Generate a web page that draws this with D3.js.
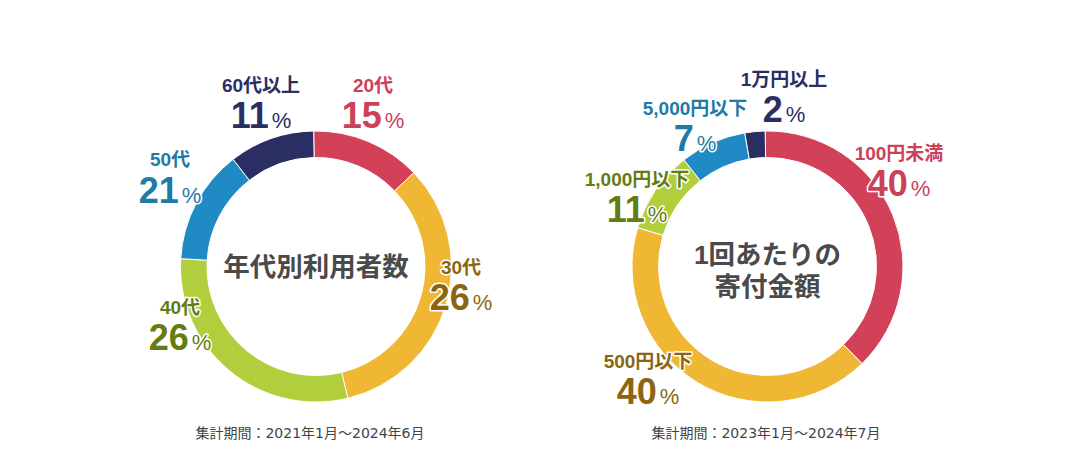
<!DOCTYPE html>
<html lang="ja">
<head>
<meta charset="utf-8">
<script src="https://cdn.jsdelivr.net/npm/d3@7"></script>
<style>
  body { margin: 0; background: #fff; }
  text { font-family: "Liberation Sans", "Noto Sans CJK JP", sans-serif; }
  .period { font-family: "DejaVu Sans", "Noto Sans CJK JP", sans-serif; }
</style>
</head>
<body>
<svg id="chart" width="1083" height="460"></svg>
<script>
// Data________________________________________________________________
const ageLabels = ['20代', '30代', '40代', '50代', '60代以上'];
const agePercents = [15, 26, 26, 21, 11];
// the drawn arcs do not follow the printed percents, so these are read off the ring
const ageArcShares = [13.1, 33.4, 29.7, 13.6, 10.2];
const agePeriod = '集計期間：2021年1月～2024年6月';
const ageTitle = ['年代別利用者数'];

const amountLabels = ['100円未満', '500円以下', '1,000円以下', '5,000円以下', '1万円以上'];
const amountPercents = [40, 40, 11, 7, 2];
const amountArcShares = [38.0, 41.9, 9.8, 7.9, 2.4];
const amountPeriod = '集計期間：2023年1月～2024年7月';
const amountTitle = ['1回あたりの', '寄付金額'];

// Styles______________________________________________________________
const ringColors = ['#d24158', '#efb733', '#b1cf3c', '#1f8ac4', '#2a2e62'];
const textColors = ['#cc4058', '#8c6510', '#647c12', '#1f7aa6', '#2a2e62'];
const outerRadius = 135.5;
const innerRadius = 109;
const centerY = 266.5;
const startAngle = -Math.PI / 180; // ring starts about a degree left of 12 o'clock

// label anchors, [x, label baseline, value baseline]
const ageAnchors = [[373, 92, 128], [461, 274, 310], [180, 314, 350], [170, 166, 203], [261, 92, 128]];
const amountAnchors = [[899, 160, 196], [648, 368, 404], [637, 186, 222], [695, 115, 151], [784, 86, 122]];

const svg = d3.select('#chart');

// Drawing a ring______________________________________________________
function drawDonut(cfg) {
    const g = svg.append('g');
    const pie = d3.pie()
        .sort(null)
        .startAngle(startAngle)
        .endAngle(startAngle + 2 * Math.PI)
        .value(d => d);
    const arc = d3.arc().innerRadius(innerRadius).outerRadius(outerRadius);

    g.append('g')
        .attr('transform', `translate(${cfg.cx}, ${centerY})`)
        .selectAll('path')
        .data(pie(cfg.shares))
        .enter()
        .append('path')
        .attr('d', arc)
        .attr('fill', (d, i) => ringColors[i])
        .attr('stroke', '#fff')
        .attr('stroke-width', 1);

    // Labels with a white halo
    const halo = sel => sel
        .attr('stroke', '#fff')
        .attr('stroke-width', 3)
        .attr('stroke-linejoin', 'round')
        .style('paint-order', 'stroke');

    g.selectAll('.slice-label')
        .data(cfg.labels)
        .enter()
        .append('text')
        .attr('class', 'slice-label')
        .attr('x', (d, i) => cfg.anchors[i][0])
        .attr('y', (d, i) => cfg.anchors[i][1])
        .attr('text-anchor', 'middle')
        .attr('font-size', 19)
        .attr('font-weight', 700)
        .attr('fill', (d, i) => textColors[i])
        .call(halo)
        .text(d => d);

    const values = g.selectAll('.slice-value')
        .data(cfg.percents)
        .enter()
        .append('text')
        .attr('class', 'slice-value')
        .attr('x', (d, i) => cfg.anchors[i][0])
        .attr('y', (d, i) => cfg.anchors[i][2])
        .attr('text-anchor', 'middle')
        .attr('fill', (d, i) => textColors[i])
        .call(halo);
    values.append('tspan').attr('font-size', 36).attr('font-weight', 700).text(d => d);
    values.append('tspan').attr('font-size', 22).attr('dx', 3).text('%');

    // Title in the hole
    const lineGap = 32;
    g.selectAll('.center-title')
        .data(cfg.title)
        .enter()
        .append('text')
        .attr('class', 'center-title')
        .attr('x', cfg.cx)
        .attr('y', (d, i) => cfg.titleY + i * lineGap)
        .attr('text-anchor', 'middle')
        .attr('font-size', 26.5)
        .attr('font-weight', 700)
        .attr('fill', '#4a4a4a')
        .text(d => d);

    g.append('text')
        .attr('class', 'period')
        .attr('x', cfg.periodX)
        .attr('y', 437.5)
        .attr('text-anchor', 'middle')
        .attr('font-size', 14)
        .attr('fill', '#444')
        .text(cfg.period);
}

drawDonut({
    cx: 316, shares: ageArcShares, labels: ageLabels, percents: agePercents,
    anchors: ageAnchors, title: ageTitle, titleY: 276, period: agePeriod, periodX: 310
});
drawDonut({
    cx: 767.5, shares: amountArcShares, labels: amountLabels, percents: amountPercents,
    anchors: amountAnchors, title: amountTitle, titleY: 264, period: amountPeriod, periodX: 766
});
</script>
</body>
</html>
